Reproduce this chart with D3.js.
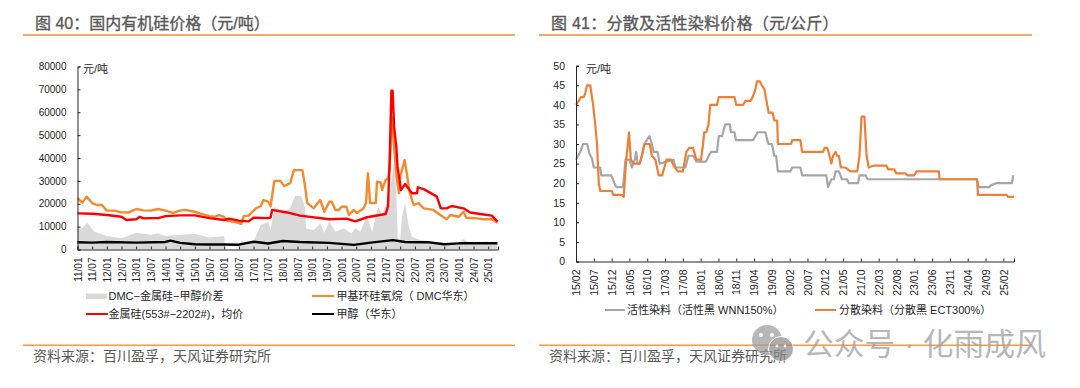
<!DOCTYPE html>
<html>
<head>
<meta charset="utf-8">
<script src="https://cdn.jsdelivr.net/npm/d3@7"></script>
<style>
  html, body { margin: 0; padding: 0; background: #fff; }
  svg { display: block; }
  text { font-family: "Liberation Sans", "Noto Sans CJK SC", sans-serif; }
</style>
</head>
<body>
<script>
// months counted from 2011/01
var xLabelsLeft = ["11/01","11/07","12/01","12/07","13/01","13/07","14/01","14/07","15/01","15/07","16/01","16/07","17/01","17/07","18/01","18/07","19/01","19/07","20/01","20/07","21/01","21/07","22/01","22/07","23/01","23/07","24/01","24/07","25/01"];
var yTicksLeft = [0,10000,20000,30000,40000,50000,60000,70000,80000];

var spreadMonths = [0,2,4,7,12,18,24,30,33,36,42,48,54,60,60.5,66,67,69,72,73,75,78,79,80.5,84,87,89,91.5,93,93.5,96.6,99.3,101,103,105.5,109,112,113.6,115.7,118.4,120.5,123,124.5,126,127,128.4,129.5,130.4,131,132,132.7,134,135.5,136.8,140.2,147,155,158,160.6,167,171.8];
var spreadValues = [9300,9300,11700,7800,5900,4900,7300,6500,7100,5900,6500,6800,5200,5900,200,200,4000,1800,3600,5900,10700,12100,8500,18700,16500,18000,23400,23400,18700,9300,8400,11400,7200,12200,7800,9300,6900,9300,7800,14600,7800,18700,15000,19700,20000,30400,39100,24700,5000,4300,14300,20300,10000,5600,4100,3300,2000,4600,2500,3500,2500];

var dmcMonths = [0,2,3.7,6,8,10,12,15,18,21,24,27,30,33,36,39,42,44,48,50,54,56,58,60,61,65,67,68,70,73,75,76,78,79,80.5,83,84.5,87,88.5,92,93,94,96.6,99.3,101,103,104,105.5,107,108,110,111,113,114.3,117,118,118.8,119.7,122,122.5,124,124.6,126,127.2,127.7,128.5,129.5,130.5,131.5,132,133.8,134.7,135.8,137.5,139.5,141.6,145.6,148.4,151,152.5,155.9,157.9,159,163.4,166,169.5,171.8];
var dmcValues = [22400,20500,23100,20300,19450,19450,17000,17000,16250,16200,17700,17100,17000,17700,17000,16000,17000,17300,16500,15800,14600,14300,15000,14300,12600,11900,11200,14600,14800,18000,19000,21600,20900,18900,30000,30000,27700,29000,34700,34700,28200,20300,18000,21600,16500,20900,20900,17260,17300,18700,18700,15100,17300,15900,18000,20300,33300,20300,20300,29600,29300,26000,30400,31100,36900,58000,44900,31800,24600,31800,39100,33300,25300,19450,20300,18000,17300,15100,13200,15100,14300,16500,13900,13600,13200,13200,11700];

var siliconMonths = [0,6,12,18,20,24,25.5,27,30,33,36,42,48,54,60,62,66,70,72,78,79,79.6,85.7,91,103,110,113.6,118.4,126,127,127.7,128.4,128.9,129.5,130.4,130.9,132.3,134,136.8,138.9,139.2,141.6,147,148.6,151,153,157.9,160.6,164.7,169.5,171.8];
var siliconValues = [15800,15600,15100,14300,12900,13200,14300,13600,13700,13700,14600,14900,14900,13700,12900,13500,12600,12300,13900,13700,14000,17300,16200,14800,13200,13500,12300,14100,15500,18700,39100,69400,69400,53700,44900,36200,26000,28600,24600,24600,27200,26400,23100,18000,18000,19000,18000,16200,15500,14800,12200];

var methanolMonths = [0,6,12,24,36,38,42,48,54,60,66,72,78,84,91,103,113,120,129,134,143,150,156,171.8];
var methanolValues = [3200,3000,3300,3000,3300,3900,2900,2300,2200,2200,2100,3400,2600,3700,3300,2900,2000,3000,4100,3300,3200,2300,2700,2700];

// months counted from 2015/02
var xLabelsRight = ["15/02","15/07","15/12","16/05","16/10","17/03","17/08","18/01","18/06","18/11","19/04","19/09","20/02","20/07","20/12","21/05","21/10","22/03","22/08","23/01","23/06","23/11","24/04","24/09","25/02"];
var yTicksRight = [0,5,10,15,20,25,30,35,40,45,50];

var reactiveMonths = [0,0.6,1.2,2,3.1,3.8,4.5,5,6.8,7.1,9.9,10.8,11.3,13.2,13.9,15,15.7,16.5,16.9,17.3,17.9,18.5,19.2,20.6,21.3,21.8,22.9,23.5,27.4,27.9,30.7,31.6,33,33.8,36.5,37.3,37.9,39.6,40.1,41,41.9,43.2,43.5,44.5,44.9,49.7,50.4,51,53.2,53.7,54.1,55,55.7,56.2,56.7,60.2,60.7,63,63.5,70.3,70.8,71.7,72.4,72.9,73.8,74.7,76.1,76.6,79.2,79.6,81.3,81.9,112.6,113.1,116,116.6,118,122.4,122.8];
var reactiveValues = [26,27,28,30,30,27.5,26.3,24,24,22,22,20,19,19,26,26,24,26,28,25,25,27,30,32,30,28,28,25,26,24,24,27,27,25.5,25.5,27,28,28,32,32,35,35,33,33,31,31,32,33,33,31,30,30,27,27,23,23,24,24,22,22,19,21,21,23,23,21,21,20,20,22,22,21,21,19,19,19.5,20,20,22];

var disperseMonths = [0,0.75,1.4,2.2,2.6,3.1,4,4.8,5.4,5.9,6.4,6.8,10.1,10.4,12.9,13.4,14.1,14.9,15.4,16.2,17.9,18.5,19.2,20.7,21.3,22.3,23.2,24.2,25.4,26.7,27.4,28.6,30,31,31.8,32.9,33.8,35.1,35.7,36,36.6,37.2,37.7,39.6,40.1,44.5,45,46.9,47.6,49,49.6,50.4,50.8,51.6,52.2,52.9,53.5,54.1,55.2,55.7,56.5,56.7,60.4,60.7,63,63.5,69.4,69.8,70.6,71.2,71.7,72.2,72.9,73.3,73.8,74.4,75.7,77.1,79,79.6,80.2,81,81.6,82.2,83.6,87.2,87.6,89.4,89.9,92.5,93,95,95.6,101.9,102.1,112.6,112.9,120.9,121.3,123];
var disperseValues = [40,41,42,42,43,45,45,40,35,30,20,18,18,17,17,16.5,26,33,26,25,25,27,30,30,27,26,22,22,26,26,24.5,23,23,28,29,29,26,26,30,33,33,35,40,40,42,42,40,40,41,41,42,44,46,46,45,44,41,38,38,36,36,30,30,31,31,28,28,29,29,27,25,27,28,27,27,24,24,23,23,27,37,37,27,24,24.5,24.5,23.5,23.5,22.5,22.5,22,22,23,23,21,21,17,17,16.5,16.5];

var ink = "#262626", grey = "#595959", rule = "#f79a46";
var cjk = '"Liberation Sans", "Noto Sans CJK SC", sans-serif';

var svg = d3.select("body").append("svg").attr("width", 1080).attr("height", 388);

function pairs(xs, ys) {
  return xs.map(function (d, i) { return [d, ys[i]]; });
}

function frame(x0, x1, title, titleX, spacing, source, sourceX) {
  // regular weight with a hairline stroke, the bold face came out too heavy
  svg.append("text").attr("x", titleX).attr("y", 29).attr("fill", grey)
    .attr("stroke", grey).attr("stroke-width", 0.35)
    .attr("font-size", 16).attr("letter-spacing", spacing).text(title);
  svg.append("rect").attr("x", x0).attr("y", 34).attr("width", x1 - x0).attr("height", 2).attr("fill", "#f8a765");
  svg.append("rect").attr("x", x0).attr("y", 344.5).attr("width", x1 - x0).attr("height", 1.5).attr("fill", rule);
  svg.append("text").attr("x", sourceX).attr("y", 361).attr("fill", grey)
    .attr("font-size", 14).text(source);
}

// ticks point into the plot
function axes(x, y, xVals, xLabels, yVals, fs) {
  var bottom = y.range()[0], left = x.range()[0];
  var gx = svg.append("g").attr("transform", "translate(0," + bottom + ")")
    .call(d3.axisBottom(x).tickValues(xVals).tickSize(-3).tickPadding(6)
      .tickFormat(function (d, i) { return xLabels[i]; }));
  gx.selectAll("text")
    .attr("transform", "rotate(-90)")
    .attr("x", -8).attr("y", 0).attr("dy", "0.35em")
    .attr("text-anchor", "end").attr("fill", ink)
    .style("font-family", cjk).style("font-size", fs + "px");
  var gy = svg.append("g").attr("transform", "translate(" + left + ",0)")
    .call(d3.axisRight(y).tickValues(yVals).tickSize(3).tickFormat(d3.format("d")));
  gy.selectAll("text")
    .attr("x", -11).attr("text-anchor", "end").attr("fill", ink)
    .style("font-family", cjk).style("font-size", fs + "px");
  svg.selectAll("path.domain").attr("stroke", ink);
  svg.selectAll(".tick line").attr("stroke", ink);
}

function drawLine(x, y, xs, ys, color, w) {
  var line = d3.line().x(function (d) { return x(d[0]); }).y(function (d) { return y(d[1]); });
  svg.append("path").datum(pairs(xs, ys)).attr("d", line)
    .attr("fill", "none").attr("stroke", color).attr("stroke-width", w)
    .attr("stroke-linejoin", "round");
}

function legendText(tx, ty, s) {
  svg.append("text").attr("x", tx).attr("y", ty).attr("dy", "0.35em").attr("fill", ink)
    .attr("font-size", 11).text(s);
}

// left panel
frame(23, 515, "图 40：国内有机硅价格（元/吨）", 35, 0, "资料来源：百川盈孚，天风证券研究所", 33);

var xL = d3.scaleLinear().domain([0, 172]).range([77.5, 498]);
var yL = d3.scaleLinear().domain([0, 80000]).range([249.5, 66.5]);

var spreadArea = d3.area()
  .x(function (d) { return xL(d[0]); })
  .y0(yL(0))
  .y1(function (d) { return yL(d[1]); });
svg.append("path").datum(pairs(spreadMonths, spreadValues)).attr("d", spreadArea).attr("fill", "#d9d9d9");

drawLine(xL, yL, dmcMonths, dmcValues, "#f28a2e", 2.4);
drawLine(xL, yL, siliconMonths, siliconValues, "#ff0000", 2.4);
drawLine(xL, yL, methanolMonths, methanolValues, "#000000", 2.4);

axes(xL, yL, xLabelsLeft.map(function (d, i) { return i * 6; }), xLabelsLeft, yTicksLeft, 10);
svg.append("text").attr("x", 83).attr("y", 73).attr("fill", ink).attr("font-size", 11).text("元/吨");

svg.append("rect").attr("x", 86).attr("y", 293.5).attr("width", 21).attr("height", 5.5).attr("fill", "#d9d9d9");
legendText(108.5, 296, "DMC−金属硅−甲醇价差");
svg.append("line").attr("x1", 312).attr("x2", 334).attr("y1", 296).attr("y2", 296).attr("stroke", "#f28a2e").attr("stroke-width", 2);
legendText(336.5, 296, "甲基环硅氧烷（ DMC华东）");
svg.append("line").attr("x1", 86).attr("x2", 108).attr("y1", 314).attr("y2", 314).attr("stroke", "#ff0000").attr("stroke-width", 2);
legendText(108.5, 314, "金属硅(553#−2202#)，均价");
svg.append("line").attr("x1", 312).attr("x2", 334).attr("y1", 314).attr("y2", 314).attr("stroke", "#000").attr("stroke-width", 2);
legendText(336.5, 314, "甲醇（华东）");

// right panel
frame(539, 1032, "图 41：分散及活性染料价格（元/公斤）", 551, 0.25, "资料来源：百川盈孚，天风证券研究所", 549);

var xR = d3.scaleLinear().domain([0, 123]).range([576, 1014]);
var yR = d3.scaleLinear().domain([0, 50]).range([261.5, 65.7]);

drawLine(xR, yR, reactiveMonths, reactiveValues, "#a6a6a6", 2.2);
drawLine(xR, yR, disperseMonths, disperseValues, "#ee7f36", 2.2);

axes(xR, yR, xLabelsRight.map(function (d, i) { return i * 5; }), xLabelsRight, yTicksRight, 10.5);
svg.append("text").attr("x", 586).attr("y", 73).attr("fill", ink).attr("font-size", 11).text("元/吨");

svg.append("line").attr("x1", 605).attr("x2", 625).attr("y1", 310).attr("y2", 310).attr("stroke", "#a6a6a6").attr("stroke-width", 2);
legendText(627, 310, "活性染料（活性黑 WNN150%）");
svg.append("line").attr("x1", 815).attr("x2", 836).attr("y1", 310).attr("y2", 310).attr("stroke", "#ee7f36").attr("stroke-width", 2);
legendText(839, 310, "分散染料（分散黑 ECT300%）");

// watermark over the right panel
var mark = svg.append("g").attr("opacity", 0.7);
mark.append("circle").attr("cx", 767).attr("cy", 340).attr("r", 15).attr("fill", "#9a9a9a");
mark.append("circle").attr("cx", 781).attr("cy", 349).attr("r", 12.5).attr("fill", "#8a8a8a").attr("stroke", "#fff").attr("stroke-width", 1);
[[761, 335, 2], [772, 335, 2], [777, 346, 1.4], [785, 346, 1.4]].forEach(function (p) {
  mark.append("circle").attr("cx", p[0]).attr("cy", p[1]).attr("r", p[2]).attr("fill", "#fff");
});
mark.append("text").attr("x", 803).attr("y", 355).attr("fill", "#9a9a9a")
  .attr("font-size", 30.8).text("公众号 · 化雨成风");
</script>
</body>
</html>
